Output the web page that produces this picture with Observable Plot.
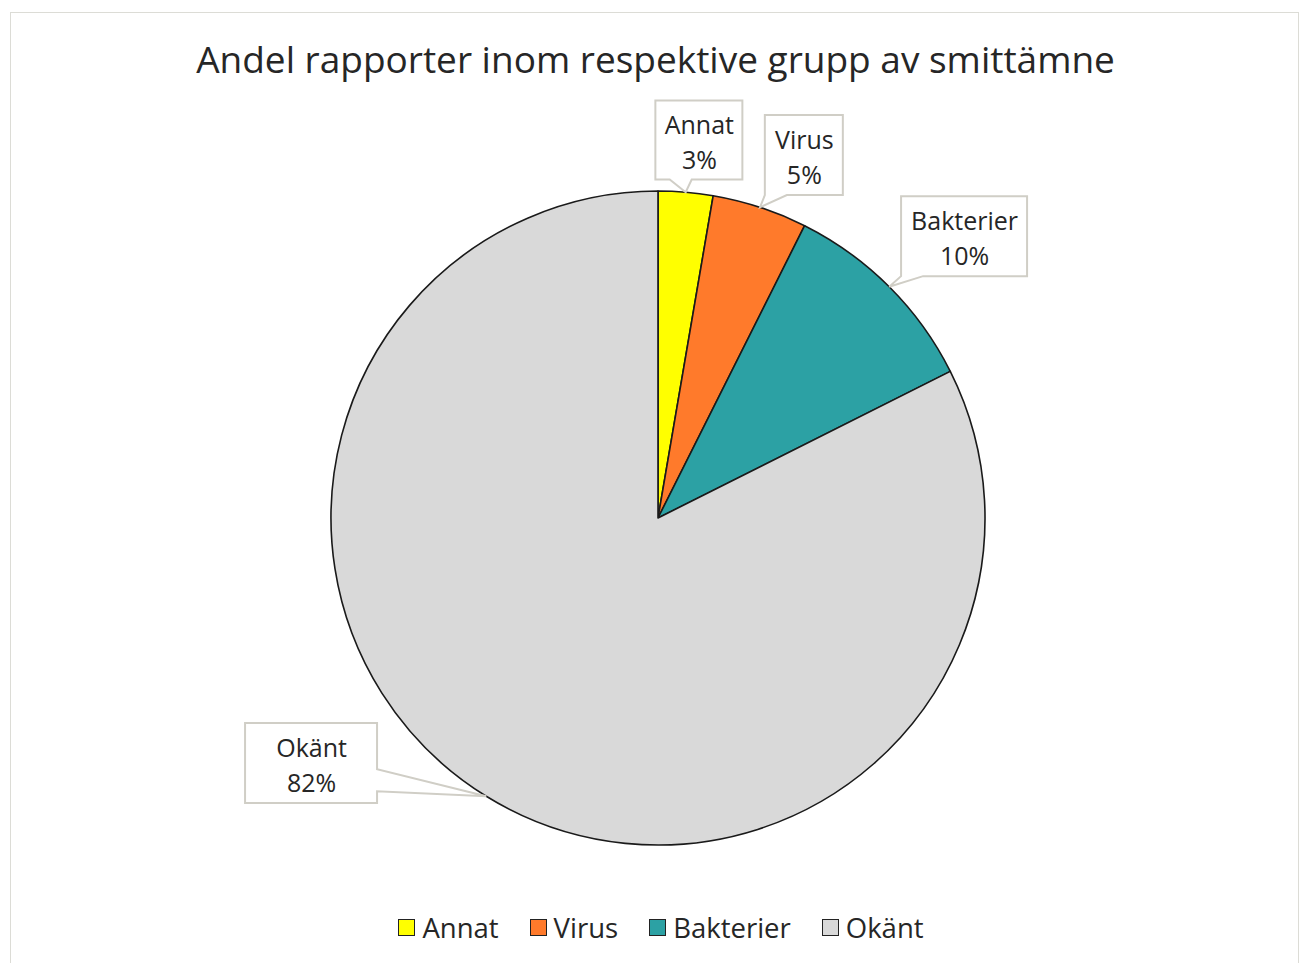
<!DOCTYPE html>
<html>
<head>
<meta charset="utf-8">
<script src="https://cdn.jsdelivr.net/npm/d3@7"></script>
<script src="https://cdn.jsdelivr.net/npm/@observablehq/plot@0.6"></script>
<style>
  html, body { margin: 0; padding: 0; background: #fff; width: 1307px; height: 963px; overflow: hidden; }
  body { position: relative; font-family: "Open Sans", "Noto Sans", sans-serif; color: #262626; }
  #frame { position: absolute; left: 10px; top: 12px; width: 1289px; height: 1000px; border: 1.5px solid #dcdcd6; box-sizing: border-box; }
  #title { position: absolute; left: 0; width: 1311px; top: 33px; text-align: center; font-size: 37px; line-height: 52px; color: #262626; white-space: nowrap; }
  #chart { position: absolute; left: 0; top: 90px; }
  #legend { position: absolute; left: 0; width: 1322px; top: 909px; display: flex; justify-content: center; align-items: center; gap: 31px; font-size: 27.5px; color: #262626; }
  .item { display: flex; align-items: center; gap: 7px; }
  .sw { width: 15px; height: 15px; border: 1.5px solid #222; box-sizing: content-box; }
</style>
</head>
<body>
<div id="frame"></div>
<div id="title">Andel rapporter inom respektive grupp av smittämne</div>
<div id="chart"></div>
<div id="legend"></div>
<script>
// ---- data ----
const categories = ["Annat", "Virus", "Bakterier", "Okänt"];
const shares = [2.7, 4.7, 10.2, 82.4];
const shareLabels = ["3%", "5%", "10%", "82%"];

// ---- styles / layout (not data) ----
const colors = ["#FFFF00", "#FF7A2B", "#2CA1A4", "#D9D9D9"];
// label box centres in unit-radius coordinates, and box sizes in px
const labelCenters = [[0.125, 1.156], [0.446, 1.110], [0.936, 0.862], [-1.061, -0.749]];
const labelBoxSizes = [[87, 79], [78, 80], [126, 80], [132, 80]];

const cx = 658, cy = 428, R = 327;
const W = 1307, H = 800;

const pie = d3.pie().sort(null).value(d => d)(shares);
const rows = categories.map((c, i) => ({
  category: c,
  share: shares[i],
  label: shareLabels[i],
  color: colors[i],
  start: pie[i].startAngle,
  end: pie[i].endAngle,
  mid: (pie[i].startAngle + pie[i].endAngle) / 2,
  lx: labelCenters[i][0],
  ly: labelCenters[i][1],
  bw: labelBoxSizes[i][0],
  bh: labelBoxSizes[i][1]
}));

const NS = "http://www.w3.org/2000/svg";

function sliceMark(index, scales) {
  const g = d3.select(document.createElementNS(NS, "g"));
  const ox = scales.x(0), oy = scales.y(0);
  const r = scales.x(1) - scales.x(0);
  const arc = d3.arc().innerRadius(0).outerRadius(r);
  g.attr("transform", `translate(${ox},${oy})`);
  g.selectAll("path").data(rows).join("path")
    .attr("d", d => arc({startAngle: d.start, endAngle: d.end}))
    .attr("fill", d => d.color)
    .attr("stroke", "#1a1a1a")
    .attr("stroke-width", 1.6)
    .attr("stroke-linejoin", "round");
  return g.node();
}

function calloutMark(index, scales) {
  const g = d3.select(document.createElementNS(NS, "g"));
  const r = scales.x(1) - scales.x(0);
  rows.forEach(d => {
    const bx = scales.x(d.lx), by = scales.y(d.ly);
    const x0 = bx - d.bw / 2, x1 = bx + d.bw / 2, y0 = by - d.bh / 2, y1 = by + d.bh / 2;
    const tx = scales.x(0) + r * Math.sin(d.mid);
    const ty = scales.y(0) - r * Math.cos(d.mid);
    const base = 22;
    let pts;
    if (ty > y1) {
      const a = Math.max(x0, Math.min(x1 - base, tx - 16));
      pts = [[x0, y0], [x1, y0], [x1, y1], [a + base, y1], [tx, ty], [a, y1], [x0, y1]];
    } else if (tx > x1) {
      const a = Math.max(y0, Math.min(y1 - base, ty - 27));
      pts = [[x0, y0], [x1, y0], [x1, a], [tx, ty], [x1, a + base], [x1, y1], [x0, y1]];
    } else if (tx < x0) {
      const a = Math.max(y0, Math.min(y1 - base, ty - 27));
      pts = [[x0, y0], [x1, y0], [x1, y1], [x0, y1], [x0, a + base], [tx, ty], [x0, a]];
    } else {
      const a = Math.max(x0, Math.min(x1 - base, tx - 16));
      pts = [[x0, y0], [a, y0], [tx, ty], [a + base, y0], [x1, y0], [x1, y1], [x0, y1]];
    }
    g.append("path")
      .attr("d", "M" + pts.map(p => p.join(",")).join("L") + "Z")
      .attr("fill", "#fff")
      .attr("stroke", "#d0cec6")
      .attr("stroke-width", 2)
      .attr("stroke-linejoin", "miter");
  });
  return g.node();
}

const plot = Plot.plot({
  width: W,
  height: H,
  margin: 0,
  x: {type: "linear", domain: [-1, 1], range: [cx - R, cx + R], axis: null},
  y: {type: "linear", domain: [-1, 1], range: [cy + R, cy - R], axis: null},
  style: {background: "transparent", fontFamily: "'Open Sans', 'Noto Sans', sans-serif"},
  marks: [
    sliceMark,
    calloutMark,
    Plot.text(rows, {
      x: "lx",
      y: "ly",
      text: d => `${d.category}\n${d.label}`,
      fontSize: 25,
      lineHeight: 1.4,
      fill: "#262626",
      textAnchor: "middle"
    })
  ]
});
document.getElementById("chart").appendChild(plot);

const legend = d3.select("#legend");
rows.forEach(d => {
  const it = legend.append("div").attr("class", "item");
  it.append("div").attr("class", "sw").style("background", d.color);
  it.append("span").text(d.category);
});
</script>
</body>
</html>
